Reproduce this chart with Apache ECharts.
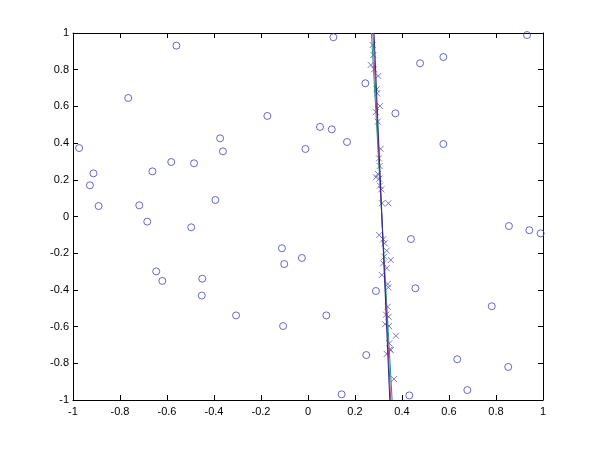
<!DOCTYPE html>
<html>
<head>
<meta charset="utf-8">
<script src="https://cdn.jsdelivr.net/npm/echarts@6/dist/echarts.min.js"></script>
<style>html,body{margin:0;padding:0;background:#fff;}#c{width:600px;height:450px;}</style>
</head>
<body>
<div id="c"></div>
<script>
// Scattered points (circles)
var circleX = [-0.974,-0.928,-0.913,-0.891,-0.765,-0.718,-0.662,-0.560,-0.582,-0.485,-0.394,-0.374,-0.362,
  0.108,-0.173,0.051,0.101,0.166,-0.011,0.244,0.932,0.576,0.477,0.372,0.576,
  -0.684,-0.497,-0.646,-0.620,-0.450,-0.452,-0.111,-0.101,-0.026,-0.306,-0.106,0.078,0.289,0.248,0.143,
  0.855,0.942,0.990,0.438,0.457,0.782,0.635,0.852,0.678,0.431];
var circleY = [0.373,0.170,0.235,0.057,0.646,0.061,0.246,0.931,0.297,0.290,0.090,0.426,0.355,
  0.977,0.548,0.488,0.475,0.406,0.368,0.726,0.989,0.869,0.835,0.562,0.395,
  -0.028,-0.059,-0.299,-0.351,-0.339,-0.431,-0.173,-0.259,-0.226,-0.539,-0.597,-0.539,-0.406,-0.755,-0.969,
  -0.052,-0.075,-0.092,-0.123,-0.391,-0.489,-0.778,-0.820,-0.946,-0.975];
// Points near the line (crosses)
var crossX = [0.275,0.278,0.267,0.281,0.299,0.292,0.294,0.306,0.289,0.297,0.309,0.302,0.305,0.297,0.289,0.303,
  0.306,0.312,0.315,0.342,0.303,0.320,0.326,0.335,0.325,0.352,0.320,0.335,0.314,0.339,0.342,0.339,0.332,0.343,
  0.328,0.345,0.374,0.346,0.349,0.335,0.352,0.366];
var crossY = [0.935,0.880,0.826,0.802,0.766,0.693,0.671,0.602,0.569,0.517,0.369,0.317,0.275,0.232,0.214,0.206,
  0.168,0.148,0.072,0.072,-0.101,-0.124,-0.146,-0.186,-0.219,-0.237,-0.255,-0.282,-0.319,-0.368,-0.386,-0.492,-0.535,-0.546,
  -0.587,-0.597,-0.650,-0.691,-0.724,-0.749,-0.728,-0.886];
// Fitted lines: x at y=1 and at y=-1
var lineTopX = [0.270, 0.276, 0.281];
var lineBottomX = [0.358, 0.352, 0.348];
var lineEndY = [1, -1];
var lineColors = ['#1a9a7a', '#b0408a', '#2a2a8a'];

function zip(a,b){return a.map(function(v,i){return [v,b[i]];});}
var fmt = function(v){return String(+v.toFixed(1));};
var axBase = {
  type:'value', min:-1, max:1, interval:0.2,
  axisLine:{show:true,onZero:false,lineStyle:{color:'#000',width:1}},
  axisTick:{show:true,inside:true,length:5,lineStyle:{color:'#000'}},
  splitLine:{show:false}
};
function ax(extra){return Object.assign({}, JSON.parse(JSON.stringify(axBase)), extra);}

var series = [
  {type:'scatter', data:zip(circleX,circleY), symbol:'circle', symbolSize:7,
   itemStyle:{color:'rgba(0,0,0,0)', borderColor:'#4444b4', borderWidth:1}, z:2, silent:true},
  {type:'scatter', data:zip(crossX,crossY), symbol:'path://M0,0L10,10M10,0L0,10', symbolSize:6,
   itemStyle:{color:'rgba(0,0,0,0)', borderColor:'#5858b8', borderWidth:1}, z:3, silent:true}
];
lineTopX.forEach(function(t,i){
  series.push({type:'line', data:[[t,lineEndY[0]],[lineBottomX[i],lineEndY[1]]], showSymbol:false,
    lineStyle:{color:lineColors[i], width:1}, z:4+i, silent:true, animation:false});
});

var chart = echarts.init(document.getElementById('c'));
chart.setOption({
  animation:false,
  backgroundColor:'#fff',
  grid:{left:73, right:57, top:33, bottom:50, containLabel:false},
  xAxis:[
    ax({position:'bottom', axisLabel:{color:'#000', fontFamily:'Liberation Sans, Arial', fontSize:11, margin:6, formatter:fmt}}),
    ax({position:'top', axisLabel:{show:false}})
  ],
  yAxis:[
    ax({position:'left', axisLabel:{color:'#000', fontFamily:'Liberation Sans, Arial', fontSize:11, margin:4, formatter:fmt}}),
    ax({position:'right', axisLabel:{show:false}})
  ],
  series:series
});
</script>
</body>
</html>
